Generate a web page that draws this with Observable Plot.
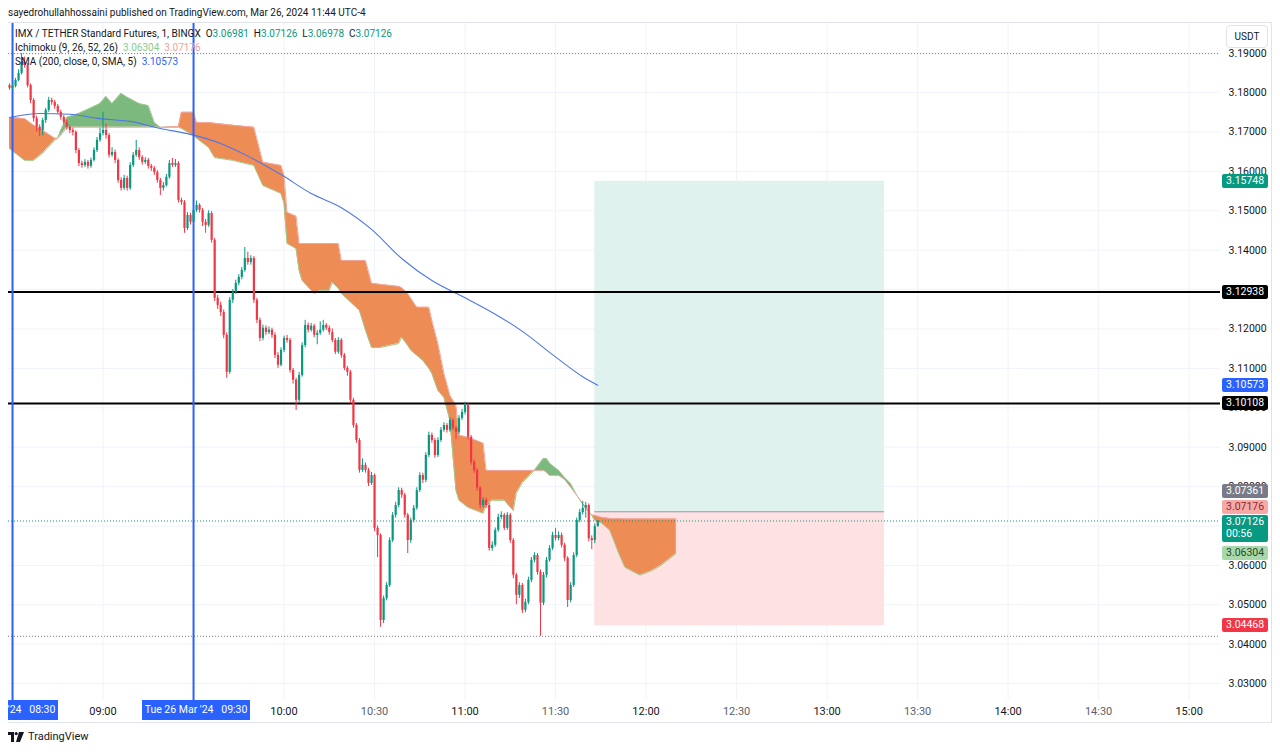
<!DOCTYPE html>
<html><head><meta charset="utf-8">
<script src="https://cdn.jsdelivr.net/npm/d3@7"></script>
<script src="https://cdn.jsdelivr.net/npm/@observablehq/plot@0.6"></script>
<style>
body{margin:0;background:#fff;font-family:Roboto,"Liberation Sans",sans-serif;color:#131722;}
#wrap{position:relative;width:1280px;height:752px;overflow:hidden;background:#fff;}
#hdr{position:absolute;left:8px;top:5px;font-size:10px;line-height:16px;color:#131722;white-space:nowrap;}
#chart{position:absolute;left:0;top:22px;}
#frame{position:absolute;left:8px;top:22px;width:1263px;height:699px;border:1px solid #e0e3eb;border-left:none;pointer-events:none;}
#ov{position:absolute;left:8px;top:22px;width:1264px;height:700px;overflow:hidden;pointer-events:none;}
.leg{position:absolute;left:7px;font-size:10px;line-height:14px;white-space:nowrap;color:#131722;}
.badge{position:absolute;font-size:10.5px;line-height:14px;height:14px;padding:0 0 0 4px;width:42px;border-radius:2px;white-space:nowrap;}
.tbadge{position:absolute;height:20px;line-height:20px;font-size:10.5px;color:#fff;background:#2962ff;white-space:nowrap;text-align:center;}
#usdt{position:absolute;left:1218px;top:3px;width:40px;height:21px;border:1px solid #e0e3eb;border-radius:4px;background:#fff;font-size:10px;line-height:21px;text-align:center;color:#131722;}
#foot{position:absolute;left:8px;top:729px;font-size:11px;line-height:16px;color:#131722;display:flex;align-items:center;gap:4px;}
</style></head><body>
<div id="wrap">
  <div id="hdr">sayedrohullahhossaini published on TradingView.com, Mar 26, 2024 11:44 UTC-4</div>
  <div id="chart"></div>
  <div id="frame"></div>
  <div id="ov"></div>
  <div id="foot"><svg width="16" height="10" viewBox="0 0 16 10"><rect x="0" y="0" width="6" height="3" fill="#131722"/><rect x="3" y="0" width="3" height="10" fill="#131722"/><circle cx="8.2" cy="1.6" r="1.6" fill="#131722"/><polygon points="11,0 16,0 12,10 8,10" fill="#131722"/></svg><span>TradingView</span></div>
</div>
<script>
// ---------- data ----------
const day = "2024-03-26";
const firstBar = "08:29";           // 1-minute bars
const firstOpen = 3.1818;
const closes = [
3.1811,3.1816,3.1831,3.1849,3.1877,3.1869,3.1818,3.1780,3.1734,3.1712,
3.1704,3.1729,3.1755,3.1780,3.1775,3.1765,3.1750,3.1737,3.1724,3.1712,
3.1704,3.1699,3.1653,3.1620,3.1615,3.1623,3.1613,3.1628,3.1653,3.1679,
3.1696,3.1704,3.1691,3.1641,3.1648,3.1628,3.1577,3.1557,3.1582,3.1557,
3.1615,3.1641,3.1653,3.1635,3.1623,3.1628,3.1613,3.1608,3.1597,3.1577,
3.1557,3.1564,3.1585,3.1620,3.1615,3.1620,3.1526,3.1521,3.1455,3.1488,
3.1471,3.1501,3.1514,3.1501,3.1471,3.1463,3.1493,3.1425,3.1278,3.1260,
3.1242,3.1184,3.1090,3.1273,3.1293,3.1316,3.1331,3.1349,3.1379,3.1369,
3.1379,3.1273,3.1222,3.1176,3.1202,3.1191,3.1197,3.1184,3.1133,3.1108,
3.1146,3.1176,3.1171,3.1095,3.1070,3.1019,3.1082,3.1158,3.1209,3.1197,
3.1207,3.1184,3.1189,3.1197,3.1209,3.1202,3.1191,3.1171,3.1141,3.1171,
3.1133,3.1100,3.1090,3.1019,3.0955,3.0917,3.0841,3.0854,3.0841,3.0808,
3.0828,3.0694,3.0676,3.0460,3.0516,3.0549,3.0663,3.0727,3.0752,3.0790,
3.0778,3.0727,3.0663,3.0714,3.0745,3.0790,3.0828,3.0816,3.0879,3.0930,
3.0917,3.0879,3.0917,3.0943,3.0955,3.0943,3.0968,3.0948,3.0938,3.0973,
3.0988,3.1006,3.0925,3.0861,3.0841,3.0796,3.0752,3.0765,3.0752,3.0643,
3.0651,3.0689,3.0722,3.0727,3.0694,3.0727,3.0663,3.0575,3.0524,3.0549,
3.0486,3.0506,3.0562,3.0613,3.0625,3.0582,3.0504,3.0575,3.0613,3.0643,
3.0676,3.0668,3.0676,3.0651,3.0618,3.0511,3.0549,3.0625,3.0714,3.0734,
3.0745,3.0752,3.0668,3.0663,3.06981,3.07126
];
const highs = [
3.1822,3.1820,3.1836,3.1858,3.1899,3.1890,3.1874,3.1822,3.1785,3.1740,
3.1718,3.1735,3.1760,3.1788,3.1786,3.1780,3.1770,3.1755,3.1742,3.1730,
3.1716,3.1710,3.1703,3.1658,3.1626,3.1630,3.1628,3.1634,3.1660,3.1686,
3.1710,3.1750,3.1720,3.1696,3.1660,3.1654,3.1632,3.1584,3.1590,3.1588,
3.1622,3.1648,3.1679,3.1660,3.1640,3.1635,3.1633,3.1618,3.1612,3.1602,
3.1582,3.1572,3.1592,3.1628,3.1633,3.1630,3.1625,3.1532,3.1526,3.1495,
3.1494,3.1508,3.1525,3.1518,3.1506,3.1478,3.1500,3.1498,3.1430,3.1285,
3.1268,3.1248,3.1190,3.1280,3.1300,3.1324,3.1338,3.1356,3.1407,3.1395,
3.1386,3.1384,3.1278,3.1228,3.1210,3.1208,3.1205,3.1202,3.1190,3.1140,
3.1152,3.1182,3.1184,3.1176,3.1100,3.1075,3.1090,3.1165,3.1222,3.1215,
3.1214,3.1212,3.1196,3.1218,3.1222,3.1214,3.1208,3.1200,3.1176,3.1178,
3.1176,3.1138,3.1105,3.1095,3.1024,3.0960,3.0922,3.0870,3.0860,3.0846,
3.0836,3.0832,3.0700,3.0680,3.0522,3.0556,3.0670,3.0734,3.0760,3.0797,
3.0796,3.0783,3.0732,3.0720,3.0752,3.0797,3.0835,3.0834,3.0886,3.0938,
3.0936,3.0922,3.0924,3.0950,3.0962,3.0960,3.0975,3.0972,3.0953,3.0980,
3.0996,3.1014,3.1010,3.0930,3.0868,3.0846,3.0800,3.0772,3.0770,3.0757,
3.0660,3.0695,3.0730,3.0736,3.0732,3.0734,3.0732,3.0668,3.0580,3.0556,
3.0554,3.0514,3.0570,3.0620,3.0632,3.0630,3.0588,3.0582,3.0620,3.0650,
3.0684,3.0694,3.0685,3.0682,3.0656,3.0622,3.0556,3.0632,3.0720,3.0742,
3.0762,3.0760,3.0756,3.0675,3.0705,3.07126
];
const lows = [
3.1806,3.1806,3.1812,3.1828,3.1845,3.1862,3.1812,3.1772,3.1725,3.1700,
3.1688,3.1690,3.1722,3.1750,3.1768,3.1758,3.1744,3.1730,3.1718,3.1705,
3.1696,3.1690,3.1645,3.1612,3.1608,3.1610,3.1606,3.1608,3.1624,3.1648,
3.1674,3.1690,3.1682,3.1634,3.1636,3.1620,3.1570,3.1550,3.1552,3.1550,
3.1552,3.1610,3.1636,3.1628,3.1616,3.1618,3.1606,3.1600,3.1590,3.1570,
3.1539,3.1550,3.1560,3.1580,3.1610,3.1610,3.1520,3.1514,3.1443,3.1450,
3.1464,3.1466,3.1496,3.1494,3.1460,3.1443,3.1458,3.1418,3.1270,3.1250,
3.1232,3.1175,3.1075,3.1085,3.1265,3.1288,3.1310,3.1325,3.1344,3.1362,
3.1362,3.1265,3.1214,3.1168,3.1170,3.1184,3.1186,3.1176,3.1125,3.1100,
3.1104,3.1140,3.1164,3.1088,3.1060,3.0993,3.1012,3.1078,3.1152,3.1190,
3.1192,3.1178,3.1160,3.1184,3.1192,3.1196,3.1184,3.1165,3.1135,3.1136,
3.1126,3.1094,3.1080,3.1010,3.0948,3.0910,3.0834,3.0836,3.0834,3.0800,
3.0803,3.0686,3.0620,3.0443,3.0452,3.0510,3.0544,3.0658,3.0720,3.0746,
3.0770,3.0720,3.0630,3.0656,3.0708,3.0740,3.0785,3.0808,3.0810,3.0874,
3.0910,3.0872,3.0874,3.0912,3.0938,3.0936,3.0938,3.0942,3.0920,3.0932,
3.0968,3.0982,3.0918,3.0854,3.0834,3.0788,3.0744,3.0746,3.0745,3.0636,
3.0636,3.0646,3.0684,3.0716,3.0688,3.0689,3.0656,3.0566,3.0500,3.0516,
3.0478,3.0480,3.0500,3.0556,3.0606,3.0575,3.0420,3.0498,3.0568,3.0608,
3.0638,3.0662,3.0662,3.0644,3.0610,3.0493,3.0505,3.0544,3.0620,3.0708,
3.0728,3.0720,3.0660,3.0640,3.0655,3.06978
];
// SMA(200) readings
const smaTimes  = ["08:29","08:39","08:49","08:59","09:09","09:19","09:29","09:39","09:49","09:59","10:09","10:19","10:29","10:39","10:49","10:59","11:09","11:19","11:29","11:39","11:44"];
const smaValues = [3.1737,3.1747,3.1745,3.1734,3.1727,3.1709,3.1694,3.1671,3.1635,3.1592,3.1544,3.1508,3.1453,3.1379,3.1323,3.1283,3.1242,3.1194,3.1135,3.1079,3.10573];
// Ichimoku cloud (leading span A / B)
const cloudTimes = ["08:29","08:34","08:37","08:40","08:44","08:45","08:46","08:48","08:52","08:59","09:01","09:03","09:06","09:08","09:12","09:15","09:17","09:19","09:25","09:26","09:30","09:31","09:35","09:37","09:43","09:50","09:53","09:59","10:00","10:01","10:04","10:05","10:06","10:10","10:12","10:15","10:16","10:18","10:19","10:25","10:27","10:29","10:32","10:38","10:39","10:41","10:42","10:44","10:46","10:48","10:49","10:51","10:53","10:55","10:57","10:58","11:01","11:06","11:07","11:09","11:13","11:16","11:17","11:19","11:23","11:26","11:27","11:28","11:31","11:33","11:35","11:37","11:39","11:42","11:43","11:45","11:48","11:51","11:53","11:55","11:58","12:02","12:05","12:10"];
const spanA = [3.1658,3.1628,3.1628,3.1646,3.1679,3.1684,3.1704,3.1737,3.1747,3.1772,3.1790,3.1772,3.1798,3.1788,3.1772,3.1767,3.1724,3.1712,3.1712,3.1709,3.1691,3.1684,3.1661,3.1635,3.1628,3.1615,3.1564,3.1544,3.1519,3.1417,3.1404,3.1349,3.1323,3.1290,3.1298,3.1298,3.1318,3.1303,3.1290,3.1247,3.1197,3.1153,3.1153,3.1163,3.1179,3.1158,3.1146,3.1133,3.1120,3.1100,3.1087,3.1044,3.1026,3.0968,3.0790,3.0765,3.0747,3.0732,3.0752,3.0765,3.0765,3.0739,3.0783,3.0810,3.0841,3.0871,3.0871,3.0859,3.0841,3.0823,3.0808,3.0778,3.0757,3.0727,3.0714,3.0709,3.0689,3.0630,3.0595,3.0587,3.0575,3.0587,3.0600,3.06304];
const spanB = [3.1737,3.1734,3.1717,3.1704,3.1684,3.1684,3.1691,3.1712,3.1712,3.1712,3.1712,3.1712,3.1712,3.1712,3.1712,3.1712,3.1712,3.1712,3.1714,3.1750,3.1750,3.1724,3.1724,3.1722,3.1717,3.1712,3.1623,3.1615,3.1590,3.1496,3.1486,3.1417,3.1417,3.1417,3.1417,3.1417,3.1417,3.1417,3.1374,3.1374,3.1374,3.1316,3.1313,3.1308,3.1305,3.1290,3.1278,3.1255,3.1255,3.1255,3.1222,3.1163,3.1087,3.1031,3.1006,3.0930,3.0925,3.0910,3.0841,3.0841,3.0841,3.0841,3.0841,3.0841,3.0841,3.0841,3.0836,3.0828,3.0828,3.0818,3.0798,3.0778,3.0755,3.0727,3.0727,3.0722,3.0719,3.0719,3.0718,3.0718,3.0718,3.07176,3.07176,3.07176];
// drawn levels
const levels = [3.12938, 3.10108];
const sessionLines = ["08:30","09:30"];
const position = {start:"11:43", end:"13:19", entry:3.07361, target:3.15748, stop:3.04468};
const lastPrice = 3.07126;
const yTicks = [3.03,3.04,3.05,3.06,3.07,3.08,3.09,3.10,3.11,3.12,3.13,3.14,3.15,3.16,3.17,3.18,3.19];
const hourTicks = ["09:00","10:00","11:00","12:00","13:00","14:00","15:00"];
const halfTicks = ["10:30","11:30","12:30","13:30","14:30"];
const gridTicks = ["08:30","09:00","09:30","10:00","10:30","11:00","11:30","12:00","12:30","13:00","13:30","14:00","14:30","15:00"];

// ---------- build ----------
const T = s => new Date(`${day}T${s.length===5 ? s+":00" : s}Z`);
const t0 = T(firstBar);
const candles = closes.map((c,i)=>({t:d3.utcMinute.offset(t0,i), o: i ? closes[i-1] : firstOpen, c, h:highs[i], l:lows[i]}));
const sma = smaTimes.map((s,i)=>({t:T(s), v:smaValues[i]}));
const cloud = cloudTimes.map((s,i)=>({t:T(s), a:spanA[i], b:spanB[i]}));
const hiLine = d3.max(highs), loLine = d3.min(lows);
const UP="#089981", DN="#f23645";
const pStart=T(position.start), pEnd=T(position.end);

const plot = Plot.plot({
  width:1280, height:700, marginLeft:8, marginRight:60, marginTop:0, marginBottom:22,
  style:{fontFamily:"Roboto, 'Liberation Sans', sans-serif", background:"transparent", overflow:"visible"},
  x:{type:"utc", domain:[T("08:28:40"), T("15:10:24")]},
  y:{domain:[3.0257, 3.1978]},
  marks:[
    Plot.gridY(yTicks, {stroke:"#f0f3fa", strokeOpacity:1}),
    Plot.gridX(gridTicks.map(T), {stroke:"#f0f3fa", strokeOpacity:1}),
    Plot.rect([position], {x1:()=>pStart, x2:()=>pEnd, y1:d=>d.entry, y2:d=>d.target, fill:"#dff2ee"}),
    Plot.rect([position], {x1:()=>pStart, x2:()=>pEnd, y1:d=>d.stop, y2:d=>d.entry, fill:"#fde1e3"}),
    Plot.ruleY([position.entry], {x1:pStart, x2:pEnd, stroke:"#9598a1", strokeWidth:1}),
    Plot.areaY(cloud, {x:"t", y1:"b", y2:d=>Math.max(d.a,d.b), fill:"#7cb97e"}),
    Plot.areaY(cloud, {x:"t", y1:d=>Math.min(d.a,d.b), y2:"b", fill:"#ee8c56"}),
    Plot.line(cloud, {x:"t", y:"a", stroke:"#a3c98a", strokeWidth:1}),
    Plot.line(cloud, {x:"t", y:"b", stroke:"#f3a7a0", strokeWidth:1}),
    Plot.ruleY([hiLine, loLine], {stroke:"#787b86", strokeWidth:1, strokeDasharray:"1,2"}),
    Plot.ruleY([lastPrice], {stroke:UP, strokeWidth:1, strokeDasharray:"1,2"}),
    Plot.line(sma, {x:"t", y:"v", stroke:"#4f76e6", strokeWidth:1.1, curve:"monotone-x"}),
    Plot.ruleY(levels, {stroke:"#000", strokeWidth:2}),
    Plot.ruleX(sessionLines.map(T), {stroke:"#2962ff", strokeWidth:2}),
    Plot.ruleX(candles, {x:"t", y1:"l", y2:"h", stroke:d=>d.c>=d.o?UP:DN, strokeWidth:1}),
    Plot.ruleX(candles, {x:"t", y1:"o", y2:"c", stroke:d=>d.c>=d.o?UP:DN, strokeWidth:2.2}),
    Plot.axisY(yTicks, {anchor:"right", tickSize:0, tickPadding:8, tickFormat:d3.format(".5f"), fontSize:10.5, color:"#131722", label:null}),
    Plot.axisX(hourTicks.map(T), {anchor:"bottom", tickSize:0, tickPadding:7, tickFormat:d3.utcFormat("%H:%M"), fontSize:11, color:"#131722", label:null}),
    Plot.axisX(halfTicks.map(T), {anchor:"bottom", tickSize:0, tickPadding:7, tickFormat:d3.utcFormat("%H:%M"), fontSize:11, color:"#5d606b", label:null})
  ]
});
document.getElementById("chart").appendChild(plot);

// ---------- overlays (positions from Plot's scales) ----------
const xs = plot.scale("x"), ys = plot.scale("y");
const ov = document.getElementById("ov");
const fmt = d3.format(".5f");
function badge(v, bg, fg, dy=0, extra=null){
  const d = document.createElement("div");
  d.className="badge";
  const top = ys.apply(v) + dy - 7;
  d.style.left = (1214)+"px"; d.style.top = top+"px";
  d.style.background=bg; d.style.color=fg;
  d.textContent = fmt(v);
  if (extra){ d.style.height="26px"; d.innerHTML = fmt(v)+"<br>"+extra; d.style.lineHeight="12.5px"; d.style.paddingTop="1px"; }
  ov.appendChild(d);
}
badge(position.target, UP, "#fff");
badge(levels[0], "#000", "#fff");
badge(smaValues[smaValues.length-1], "#2962ff", "#fff");
badge(levels[1], "#000", "#fff");
badge(position.entry, "#787b86", "#fff", -20);
badge(spanB[spanB.length-1], "#f7a9a8", "#8e2a2a", -12);
badge(lastPrice, UP, "#fff", 1, "00:56");
badge(spanA[spanA.length-1], "#a9d8ac", "#1e4d22", 0);
badge(position.stop, DN, "#fff");

const u = document.createElement("div"); u.id="usdt"; u.textContent="USDT"; ov.appendChild(u);

function tbadge(s, text, shift){
  const d=document.createElement("div"); d.className="tbadge";
  const w=108; const cx = xs.apply(T(s)) - 8 + shift;
  d.style.left=(cx-w/2)+"px"; d.style.width=w+"px"; d.style.top="678px";
  d.innerHTML=text; ov.appendChild(d);
}
tbadge("08:30", "Tue 26 Mar '24&nbsp;&nbsp;&nbsp;08:30", -8);
tbadge("09:30", "Tue 26 Mar '24&nbsp;&nbsp;&nbsp;09:30", 3);

// legend
const last = candles[candles.length-1];
const g = v => `<span style="color:${UP}">${fmt(v)}</span>`;
const leg = [
  `IMX / TETHER Standard Futures, 1, BINGX&nbsp;&nbsp;O${g(last.o)}&nbsp;&nbsp;H${g(last.h)}&nbsp;&nbsp;L${g(last.l)}&nbsp;&nbsp;C${g(last.c)}`,
  `Ichimoku (9, 26, 52, 26)&nbsp;&nbsp;<span style="color:#8cc98f">${fmt(spanA[spanA.length-1])}</span>&nbsp;&nbsp;<span style="color:#f2a0a0">${fmt(spanB[spanB.length-1])}</span>`,
  `SMA (200, close, 0, SMA, 5)&nbsp;&nbsp;<span style="color:#2962ff">${fmt(smaValues[smaValues.length-1])}</span>`
];
leg.forEach((h,i)=>{const d=document.createElement("div"); d.className="leg"; d.style.top=(5+i*14)+"px"; d.innerHTML=h; ov.appendChild(d);});
</script>
</body></html>
